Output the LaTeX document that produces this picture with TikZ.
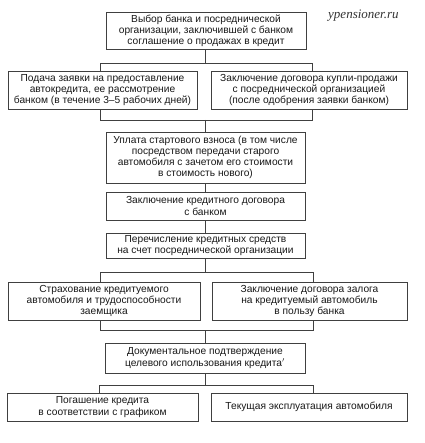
\documentclass[tikz,border=0pt]{standalone}
\usepackage{fontspec}
\setmainfont{Liberation Sans}
\newfontfamily\wmfont{Liberation Serif}
\begin{document}
\begin{tikzpicture}[x=1pt,y=-1pt,
  box/.style={draw=black!75,line width=0.75pt,rectangle,inner xsep=0pt,inner ysep=1pt,align=center,
    text=black!90,font=\fontsize{10.2}{11.2}\selectfont},
  link/.style={draw=black!75,line width=0.75pt},
  wmark/.style={font=\wmfont\itshape\fontsize{13}{14}\selectfont,text=black!80,inner sep=0pt}]
\useasboundingbox[fill=white] (0,0) rectangle (424,443);
% boxes
\node[box,minimum width=200pt,minimum height=37pt] (b1) at (206,30.5)
  {Выбор банка и посреднической\\организации, заключившей с банком\\соглашение о продажах в кредит};
\node[wmark,anchor=west] (wm) at (328,16) {ypensioner.ru};
\node[box,minimum width=189pt,minimum height=38pt] (b2l) at (102.5,90)
  {Подача заявки на предоставление\\автокредита, ее рассмотрение\\банком (в течение 3--5 рабочих дней)};
\node[box,minimum width=196pt,minimum height=38pt] (b2r) at (309,90)
  {Заключение договора купли-продажи\\с посреднической организацией\\(после одобрения заявки банком)};
\node[box,minimum width=199pt,minimum height=51pt] (b3) at (205.5,157.5)
  {Уплата стартового взноса (в том числе\\посредством передачи старого\\автомобиля с зачетом его стоимости\\в стоимость нового)};
\node[box,minimum width=199pt,minimum height=28pt] (b4) at (205.5,206)
  {Заключение кредитного договора\\с банком};
\node[box,minimum width=199pt,minimum height=25pt] (b5) at (205.5,245.5)
  {Перечисление кредитных средств\\на счет посреднической организации};
\node[box,minimum width=192pt,minimum height=38pt] (b6l) at (104,301)
  {Страхование кредитуемого\\автомобиля и трудоспособности\\заемщика};
\node[box,minimum width=195pt,minimum height=38pt] (b6r) at (309.5,301)
  {Заключение договора залога\\на кредитуемый автомобиль\\в пользу банка};
\node[box,minimum width=200pt,minimum height=30pt] (b7) at (205,358)
  {Документальное подтверждение\\целевого использования кредита$^{\prime}$};
\node[box,minimum width=191pt,minimum height=28pt] (b8l) at (102.5,407)
  {Погашение кредита\\в соответствии с графиком};
\node[box,minimum width=196pt,minimum height=28pt] (b8r) at (309,407)
  {Текущая эксплуатация автомобиля};
% junction coordinates
\coordinate (j1) at (205,63);  \coordinate (l1) at (100,63);  \coordinate (r1) at (312,63);
\coordinate (j2) at (205,120); \coordinate (l2) at (100,120); \coordinate (r2) at (312,120);
\coordinate (j3) at (205,272); \coordinate (l3) at (100,272); \coordinate (r3) at (313,272);
\coordinate (j4) at (205,330); \coordinate (l4) at (100,330); \coordinate (r4) at (313,330);
\coordinate (j5) at (205,385); \coordinate (l5) at (99,385);  \coordinate (r5) at (313,385);
% connectors
\draw[link] (b1.south -| j1) -- (j1);
\draw[link] (b2l.north -| l1) -- (l1) -- (r1) -- (b2r.north -| r1);
\draw[link] (b2l.south -| l2) -- (l2) -- (r2) -- (b2r.south -| r2);
\draw[link] (j2) -- (b3.north -| j2);
\draw[link] (b3.south -| j2) -- (b4.north -| j2);
\draw[link] (b4.south -| j2) -- (b5.north -| j2);
\draw[link] (b5.south -| j3) -- (j3);
\draw[link] (b6l.north -| l3) -- (l3) -- (r3) -- (b6r.north -| r3);
\draw[link] (b6l.south -| l4) -- (l4) -- (r4) -- (b6r.south -| r4);
\draw[link] (j4) -- (b7.north -| j4);
\draw[link] (b7.south -| j5) -- (j5);
\draw[link] (b8l.north -| l5) -- (l5) -- (r5) -- (b8r.north -| r5);
\end{tikzpicture}
\end{document}
